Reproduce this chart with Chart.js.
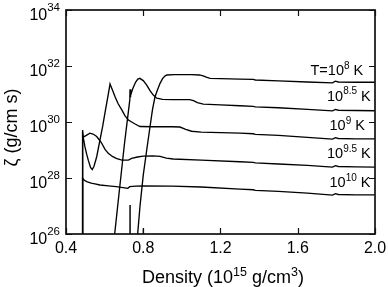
<!DOCTYPE html>
<html>
<head>
<meta charset="utf-8">
<script src="https://cdn.jsdelivr.net/npm/chart.js@4/dist/chart.umd.min.js"></script>
<style>
  html, body { margin: 0; padding: 0; background: #fff; }
  canvas { display: block; }
</style>
</head>
<body>
<canvas id="c" width="388" height="287"></canvas>
<script>
// ---- Data (density in 10^15 g/cm^3, log10 of zeta in g/(cm s)); null = gap ----
const densT8 = [0.731, 0.7315, 0.732, 0.732, 0.799, 0.800, 0.801, 0.801,
  0.765, 0.771, 0.783, 0.80, 0.818, 0.835, 0.848, 0.861, 0.874, 0.887, 0.90, 0.912, 0.922,
  0.96, 1.00, 1.05, 1.09, 1.11, 1.13, 1.146, 1.20, 1.30, 1.37, 1.38, 1.50, 1.65, 1.78, 1.795, 1.81, 1.90, 2.0];
const logZetaT8 = [24, 27.04, 24, null, 24, 26.2, 24, null,
  25.6, 26.0, 26.98, 28.1, 29.0, 29.83, 30.45, 30.9, 31.15, 31.38, 31.55, 31.64, 31.68,
  31.69, 31.69, 31.69, 31.68, 31.65, 31.59, 31.56, 31.55, 31.53, 31.52, 31.50, 31.47, 31.43, 31.40, 31.46, 31.43, 31.42, 31.42];

const densT85 = [0.645, 0.652, 0.677, 0.702, 0.72, 0.7305, 0.7315, 0.733, 0.736, 0.745, 0.76, 0.772, 0.782,
  0.80, 0.818, 0.835, 0.852, 0.870, 0.90, 0.95, 1.04, 1.06, 1.08, 1.111, 1.20, 1.30, 1.37, 1.38,
  1.50, 1.65, 1.78, 1.795, 1.81, 1.90, 2.0];
const logZetaT85 = [25.5, 26.0, 27.6, 29.18, 30.2, 30.8, 31.17, 30.88, 30.95, 31.18, 31.42, 31.53, 31.56,
  31.48, 31.32, 31.12, 30.96, 30.85, 30.81, 30.80, 30.80, 30.76, 30.69, 30.64, 30.61, 30.58, 30.56, 30.54,
  30.51, 30.45, 30.40, 30.45, 30.42, 30.41, 30.40];

const densT9 = [0.486, 0.486, 0.490, 0.498, 0.507, 0.516, 0.527, 0.536, 0.545, 0.559, 0.576, 0.59, 0.605,
  0.618, 0.628, 0.64, 0.654, 0.67, 0.689, 0.705, 0.723, 0.74, 0.76, 0.783, 0.85, 0.95, 0.99, 1.02, 1.05,
  1.10, 1.20, 1.30, 1.37, 1.38, 1.50, 1.65, 1.78, 1.795, 1.81, 1.90, 2.0];
const logZetaT9 = [20, 29.5, 29.42, 29.12, 28.85, 28.62, 28.38, 28.30, 28.42, 28.76, 29.36, 29.85, 30.45,
  30.95, 31.36, 31.15, 30.90, 30.65, 30.43, 30.23, 30.07, 30.0, 29.92, 29.84, 29.83, 29.83, 29.82, 29.74, 29.67,
  29.64, 29.62, 29.60, 29.58, 29.56, 29.52, 29.45, 29.39, 29.44, 29.41, 29.40, 29.40];

const densT95 = [0.486, 0.486, 0.490, 0.505, 0.524, 0.54, 0.559, 0.575, 0.585, 0.602, 0.619, 0.64, 0.66,
  0.689, 0.723, 0.74, 0.77, 0.80, 0.85, 0.887, 0.92, 0.955, 1.10, 1.30, 1.37, 1.38, 1.50, 1.65, 1.78,
  1.795, 1.81, 1.90, 2.0];
const logZetaT95 = [20, 29.71, 29.46, 29.52, 29.60, 29.57, 29.48, 29.34, 29.24, 29.02, 28.88, 28.77, 28.70,
  28.64, 28.64, 28.70, 28.75, 28.78, 28.79, 28.77, 28.71, 28.68, 28.64, 28.58, 28.56, 28.54, 28.50, 28.45, 28.39,
  28.44, 28.41, 28.40, 28.39];

const densT10 = [0.486, 0.486, 0.495, 0.507, 0.53, 0.55, 0.576, 0.62, 0.66, 0.704, 0.72, 0.73, 0.76, 0.80,
  0.95, 1.10, 1.30, 1.37, 1.38, 1.50, 1.65, 1.78, 1.795, 1.81, 1.90, 2.0];
const logZetaT10 = [20, 27.99, 27.92, 27.87, 27.82, 27.79, 27.75, 27.72, 27.69, 27.65, 27.63, 27.69, 27.71, 27.72,
  27.71, 27.68, 27.60, 27.58, 27.56, 27.52, 27.46, 27.39, 27.44, 27.41, 27.40, 27.40];

const seriesPrefix = ['T=', '', '', '', ''];
const seriesExponent = ['8', '8.5', '9', '9.5', '10'];

const xTickValues = [0.4, 0.8, 1.2, 1.6, 2.0];
const xTickLabels = ['0.4', '0.8', '1.2', '1.6', '2.0'];
const yTickExponents = [26, 28, 30, 32, 34];

const xTitle = ['Density (10', '15', ' g/cm', '3', ')'];
const yTitle = 'ζ (g/cm s)';

// ---- build datasets ----
function pts(dens, lz) {
  return dens.map((d, i) => ({ x: d, y: lz[i] === null ? null : Math.pow(10, lz[i]) }));
}
const allSeries = [
  pts(densT8, logZetaT8), pts(densT85, logZetaT85), pts(densT9, logZetaT9),
  pts(densT95, logZetaT95), pts(densT10, logZetaT10)
];
const datasets = allSeries.map(d => ({
  data: d, showLine: true, borderColor: '#000', borderWidth: 1.35,
  pointRadius: 0, tension: 0, spanGaps: false, fill: false
}));

const FONT = '"Liberation Sans", Arial, Helvetica, sans-serif';
const labelPos = [[310.5, 75], [327, 100.5], [329.5, 130], [327, 158], [329.5, 187]];

const deco = {
  id: 'deco',
  afterDraw(chart) {
    const ctx = chart.ctx, a = chart.chartArea;
    const xs = chart.scales.x, ys = chart.scales.y;
    ctx.save();
    ctx.strokeStyle = '#111';
    ctx.lineWidth = 1.7;
    ctx.strokeRect(a.left, a.top, a.right - a.left, a.bottom - a.top);
    ctx.lineWidth = 1.2;
    const tl = 6;
    ctx.beginPath();
    xTickValues.forEach(v => {
      const p = Math.round(xs.getPixelForValue(v)) + 0.5;
      ctx.moveTo(p, a.bottom); ctx.lineTo(p, a.bottom - tl);
      ctx.moveTo(p, a.top); ctx.lineTo(p, a.top + tl);
    });
    yTickExponents.forEach(e => {
      const p = Math.round(ys.getPixelForValue(Math.pow(10, e))) + 0.5;
      ctx.moveTo(a.left, p); ctx.lineTo(a.left + tl, p);
      ctx.moveTo(a.right, p); ctx.lineTo(a.right - tl, p);
    });
    ctx.stroke();

    ctx.fillStyle = '#000';
    // x tick labels
    ctx.font = '16px ' + FONT;
    ctx.textAlign = 'center';
    ctx.textBaseline = 'alphabetic';
    xTickValues.forEach((v, i) => {
      ctx.fillText(xTickLabels[i], xs.getPixelForValue(v), a.bottom + 19);
    });
    // y tick labels 10^n
    yTickExponents.forEach(e => {
      const p = ys.getPixelForValue(Math.pow(10, e));
      const right = a.left - 6;
      ctx.font = '11.5px ' + FONT;
      const sw = ctx.measureText(String(e)).width;
      ctx.textAlign = 'left';
      ctx.fillText(String(e), right - sw, p + 1);
      ctx.font = '16px ' + FONT;
      ctx.textAlign = 'right';
      ctx.fillText('10', right - sw, p + 10);
    });
    // curve labels
    ctx.textAlign = 'left';
    seriesExponent.forEach((ex, i) => {
      let [x, y] = labelPos[i];
      ctx.font = '14.5px ' + FONT;
      const base = seriesPrefix[i] + '10';
      ctx.fillText(base, x, y); x += ctx.measureText(base).width;
      ctx.font = '10px ' + FONT;
      ctx.fillText(ex, x, y - 6.5); x += ctx.measureText(ex).width;
      ctx.font = '14.5px ' + FONT;
      ctx.fillText(' K', x, y);
    });
    // x title
    const sizes = [18, 12.5, 18, 12.5, 18];
    const offs = [0, -7.5, 0, -7.5, 0];
    let tw = 0;
    xTitle.forEach((t, i) => { ctx.font = sizes[i] + 'px ' + FONT; tw += ctx.measureText(t).width; });
    let x = 223 - tw / 2;
    xTitle.forEach((t, i) => {
      ctx.font = sizes[i] + 'px ' + FONT;
      ctx.fillText(t, x, 283 + offs[i]);
      x += ctx.measureText(t).width;
    });
    // y title
    ctx.translate(17, 127.5);
    ctx.rotate(-Math.PI / 2);
    ctx.font = '18px ' + FONT;
    ctx.textAlign = 'center';
    ctx.fillText(yTitle, 0, 0);
    ctx.restore();
  }
};

new Chart(document.getElementById('c').getContext('2d'), {
  type: 'scatter',
  data: { datasets },
  options: {
    responsive: false,
    animation: false,
    events: [],
    layout: { padding: { left: 66, right: 13, top: 10, bottom: 53 } },
    plugins: { legend: { display: false }, tooltip: { enabled: false } },
    scales: {
      x: {
        type: 'linear', min: 0.4, max: 2.0,
        ticks: { display: false }, grid: { display: false }, border: { display: false },
        afterFit(s) { s.height = 0; }
      },
      y: {
        type: 'logarithmic', min: 1e26, max: 1e34,
        ticks: { display: false }, grid: { display: false }, border: { display: false },
        afterFit(s) { s.width = 0; }
      }
    }
  },
  plugins: [deco]
});
</script>
</body>
</html>
